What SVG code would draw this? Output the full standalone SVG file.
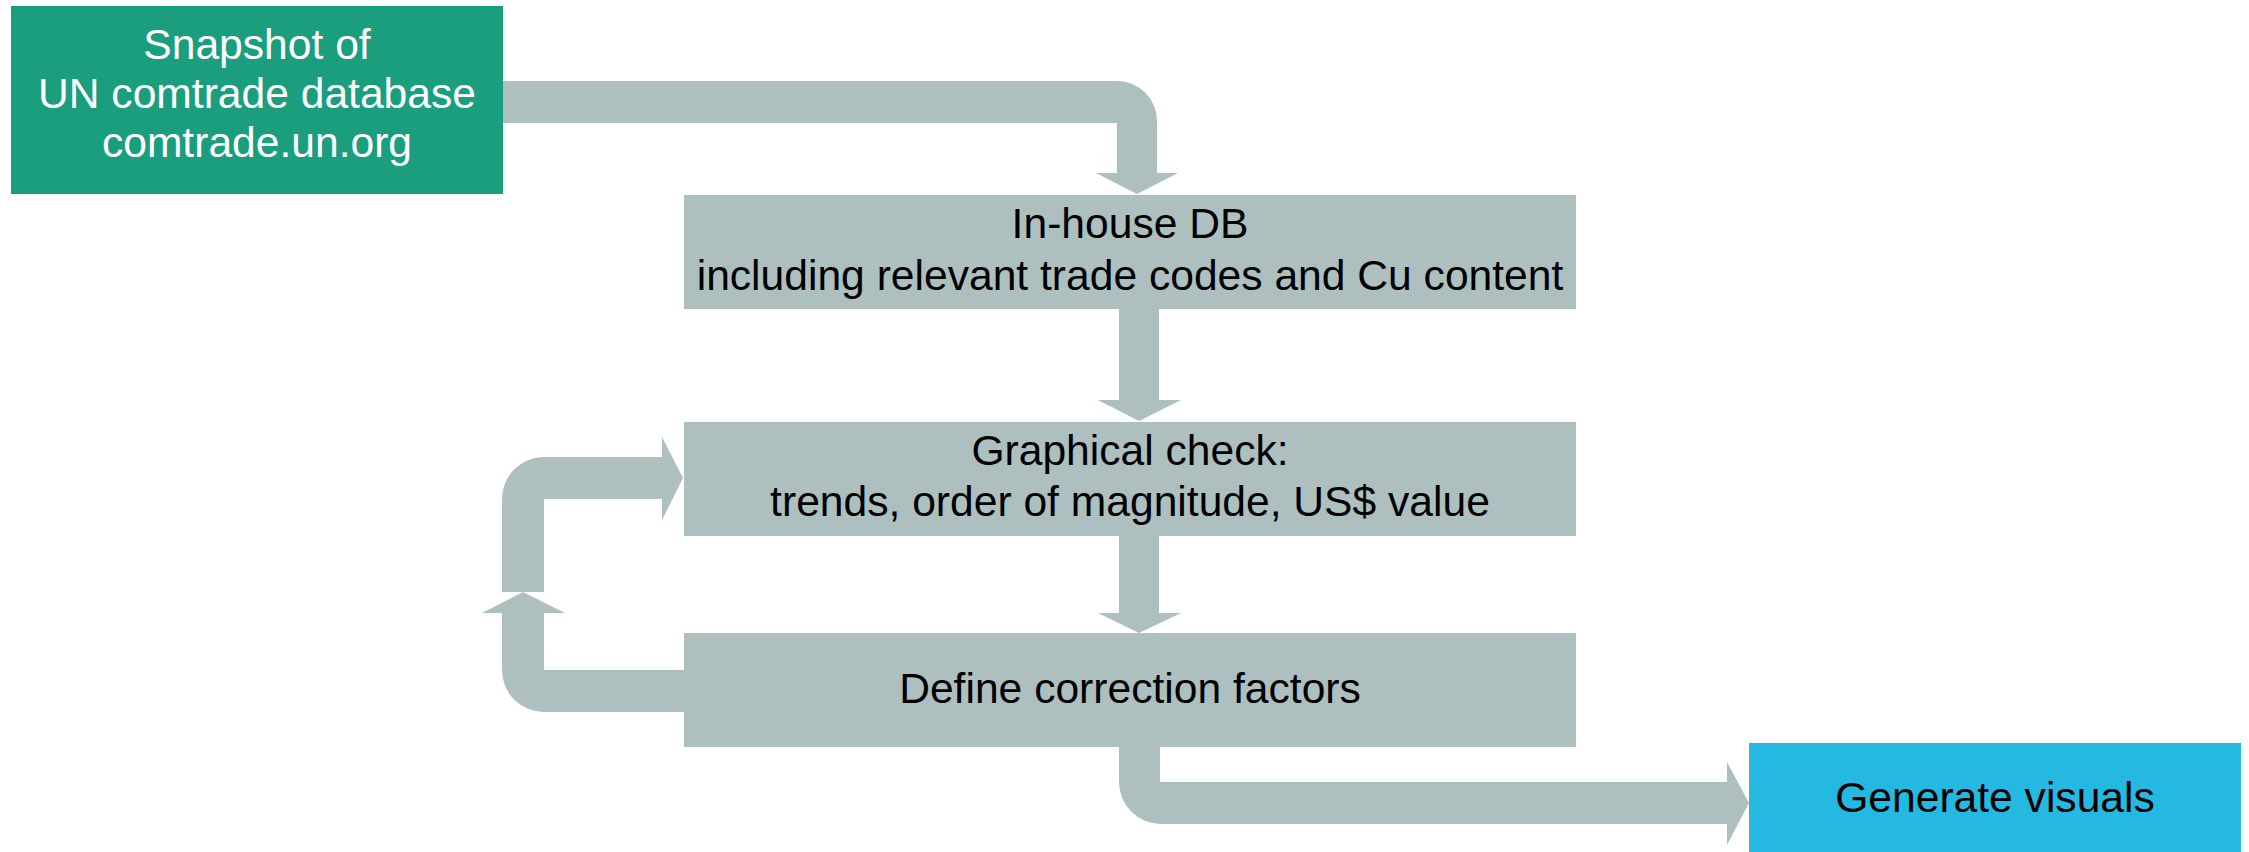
<svg xmlns="http://www.w3.org/2000/svg" width="2249" height="852" viewBox="0 0 2249 852">
  <style>
    .lbl { font-family: "Liberation Sans", Arial, sans-serif; font-size: 42.6px; text-anchor: middle; }
    .dark { fill: #000000; }
    .light { fill: #ffffff; }
    .step { fill: #adbfbf; }
    .pipe { fill: #adbfbf; stroke: none; }
  </style>
  <rect x="0" y="0" width="2249" height="852" fill="#ffffff"/>

  <!-- block arrows between the steps -->
  <g id="connectors">
    <path class="pipe" d="M503,81 H1117 A40,40 0 0 1 1157,121 V173 H1178 L1137,194 L1096,173 H1117 V123 H503 Z"/>
    <path class="pipe" d="M1119,309 H1159 V400 H1181 L1139,421 L1098,400 H1119 Z"/>
    <path class="pipe" d="M1119,536 H1159 V613 H1181 L1139,633 L1098,613 H1119 Z"/>
    <path class="pipe" d="M1119,747 H1160 V782 H1727 V762 L1749,803 L1727,845 V824 H1161 A42,42 0 0 1 1119,782 Z"/>
    <path class="pipe" d="M684,670 H544 V613 H565 L523,592 L482,613 H502 V670 A42,42 0 0 0 544,712 H684 Z"/>
    <path class="pipe" d="M502,592 V499 A42,42 0 0 1 544,457 H662 V437 L683,478 L662,520 V499 H544 V592 Z"/>
  </g>

  <g id="snapshot">
    <rect x="11" y="6" width="492" height="188" fill="#1b9e7d"/>
    <text class="lbl light" x="257" y="59">Snapshot of</text>
    <text class="lbl light" x="257" y="108">UN comtrade database</text>
    <text class="lbl light" x="257" y="157">comtrade.un.org</text>
  </g>

  <g id="inhouse-db">
    <rect class="step" x="684" y="195" width="892" height="114"/>
    <text class="lbl dark" x="1130" y="238">In-house DB</text>
    <text class="lbl dark" x="1130" y="290">including relevant trade codes and Cu content</text>
  </g>

  <g id="graphical-check">
    <rect class="step" x="684" y="422" width="892" height="114"/>
    <text class="lbl dark" x="1130" y="465">Graphical check:</text>
    <text class="lbl dark" x="1130" y="516">trends, order of magnitude, US$ value</text>
  </g>

  <g id="correction-factors">
    <rect class="step" x="684" y="633" width="892" height="114"/>
    <text class="lbl dark" x="1130" y="703">Define correction factors</text>
  </g>

  <g id="generate-visuals">
    <rect x="1749" y="743" width="492" height="109" fill="#25b9e1"/>
    <text class="lbl dark" x="1995" y="812">Generate visuals</text>
  </g>
</svg>
